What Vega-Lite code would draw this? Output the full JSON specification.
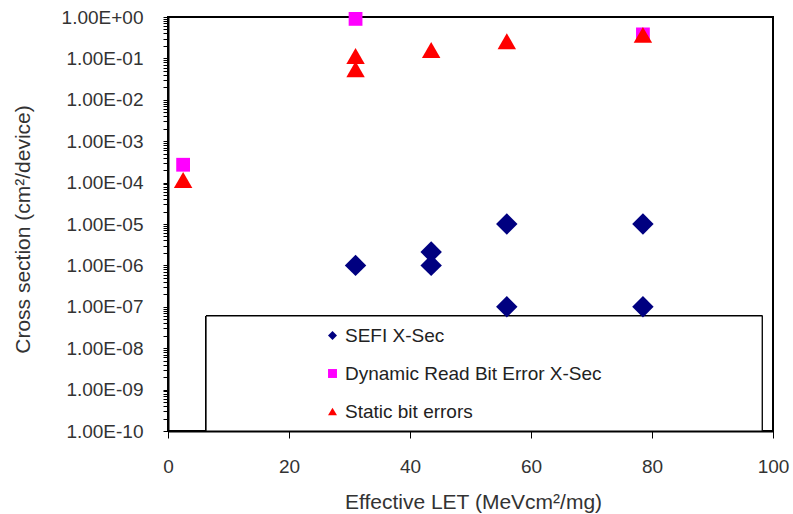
{
  "$schema": "https://vega.github.io/schema/vega-lite/v6.json",
  "width": 605,
  "height": 414,
  "autosize": "none",
  "padding": {"left": 168, "top": 17, "right": 20, "bottom": 83},
  "background": "white",
  "config": {
    "font": "Liberation Sans",
    "view": {"stroke": "black", "strokeWidth": 2},
    "axis": {"grid": false, "domainColor": "black", "domainWidth": 2, "tickColor": "black", "labelColor": "#333", "titleColor": "#333", "labelFont": "Liberation Sans", "titleFont": "Liberation Sans", "titleFontWeight": "normal", "labelFlush": false},
    "legend": {"symbolSize": 80}
  },
  "data": {
    "values": [
      {"let": 31, "xsec": 1e-6, "series": "SEFI X-Sec"},
      {"let": 43.5, "xsec": 2.1e-6, "series": "SEFI X-Sec"},
      {"let": 43.5, "xsec": 1e-6, "series": "SEFI X-Sec"},
      {"let": 56, "xsec": 1e-5, "series": "SEFI X-Sec"},
      {"let": 56, "xsec": 1e-7, "series": "SEFI X-Sec"},
      {"let": 78.5, "xsec": 1e-5, "series": "SEFI X-Sec"},
      {"let": 78.5, "xsec": 1e-7, "series": "SEFI X-Sec"},
      {"let": 2.5, "xsec": 2.7e-4, "series": "Dynamic Read Bit Error X-Sec"},
      {"let": 31, "xsec": 0.9, "series": "Dynamic Read Bit Error X-Sec"},
      {"let": 78.5, "xsec": 0.38, "series": "Dynamic Read Bit Error X-Sec"},
      {"let": 2.5, "xsec": 1.15e-4, "series": "Static bit errors"},
      {"let": 31, "xsec": 0.114, "series": "Static bit errors"},
      {"let": 31, "xsec": 0.055, "series": "Static bit errors"},
      {"let": 43.5, "xsec": 0.16, "series": "Static bit errors"},
      {"let": 56, "xsec": 0.26, "series": "Static bit errors"},
      {"let": 78.5, "xsec": 0.37, "series": "Static bit errors"}
    ]
  },
  "encoding": {
    "x": {
      "field": "let", "type": "quantitative",
      "scale": {"domain": [0, 100], "nice": false},
      "axis": {
        "values": [0, 20, 40, 60, 80, 100],
        "title": "Effective LET (MeVcm²/mg)",
        "tickSize": 7, "labelPadding": 19, "labelFontSize": 19,
        "titleFontSize": 21, "titleX": 305, "titleY": 71, "titleBaseline": "middle"
      }
    },
    "y": {
      "field": "xsec", "type": "quantitative",
      "scale": {"type": "log", "domain": [1e-10, 1], "nice": false},
      "axis": {
        "values": [1e-10,2e-10,3e-10,4e-10,5e-10,6e-10,7e-10,8e-10,9e-10,
                   1e-9,2e-9,3e-9,4e-9,5e-9,6e-9,7e-9,8e-9,9e-9,
                   1e-8,2e-8,3e-8,4e-8,5e-8,6e-8,7e-8,8e-8,9e-8,
                   1e-7,2e-7,3e-7,4e-7,5e-7,6e-7,7e-7,8e-7,9e-7,
                   1e-6,2e-6,3e-6,4e-6,5e-6,6e-6,7e-6,8e-6,9e-6,
                   1e-5,2e-5,3e-5,4e-5,5e-5,6e-5,7e-5,8e-5,9e-5,
                   1e-4,2e-4,3e-4,4e-4,5e-4,6e-4,7e-4,8e-4,9e-4,
                   1e-3,2e-3,3e-3,4e-3,5e-3,6e-3,7e-3,8e-3,9e-3,
                   0.01,0.02,0.03,0.04,0.05,0.06,0.07,0.08,0.09,
                   0.1,0.2,0.3,0.4,0.5,0.6,0.7,0.8,0.9,1],
        "labelExpr": "abs(log(datum.value)/LN10 - round(log(datum.value)/LN10)) < 0.001 ? ('1.00E' + (round(log(datum.value)/LN10) < 0 ? '-' : '+') + (abs(round(log(datum.value)/LN10)) < 10 ? '0' : '') + abs(round(log(datum.value)/LN10))) : ''",
        "labelOverlap": false,
        "labelFontSize": 19,
        "tickSize": 5,
        "labelPadding": 20,
        "title": "Cross section (cm²/device)",
        "titleFontSize": 21,
        "titleAngle": -90,
        "titleX": -145,
        "titleY": 212,
        "titleAlign": "center",
        "titleBaseline": "middle",
        "encode": {
          "ticks": {
            "update": {
              "x": {"signal": "abs(log(datum.value)/LN10 - round(log(datum.value)/LN10)) < 0.001 ? 6 : 0"},
              "x2": {"signal": "abs(log(datum.value)/LN10 - round(log(datum.value)/LN10)) < 0.001 ? -5 : 6"}
            }
          }
        }
      }
    },
    "color": {
      "field": "series", "type": "nominal",
      "scale": {"domain": ["SEFI X-Sec", "Dynamic Read Bit Error X-Sec", "Static bit errors"], "range": ["#000080", "#FF00FF", "#FF0000"]},
      "legend": {"orient": "none", "legendX": 155, "legendY": 309, "title": null, "labelFontSize": 19, "labelColor": "#222", "labelLimit": 500, "symbolSize": 80, "rowPadding": 18, "labelOffset": 3, "padding": 0, "symbolStrokeWidth": 0}
    },
    "shape": {
      "field": "series", "type": "nominal",
      "scale": {"domain": ["SEFI X-Sec", "Dynamic Read Bit Error X-Sec", "Static bit errors"], "range": ["diamond", "square", "triangle-up"]},
      "legend": {"orient": "none", "legendX": 155, "legendY": 309, "title": null, "labelFontSize": 19, "labelColor": "#222", "labelLimit": 500, "symbolSize": 80, "rowPadding": 18, "labelOffset": 3, "padding": 0, "symbolStrokeWidth": 0}
    }
  },
  "layer": [
    {
      "mark": {"type": "rect", "fill": "white", "stroke": "black", "strokeWidth": 1},
      "encoding": {
        "x": {"datum": 6.3, "type": "quantitative"},
        "x2": {"datum": 98.2},
        "y": {"datum": 6e-8, "type": "quantitative"},
        "y2": {"datum": 1e-10},
        "color": {"value": "white"},
        "shape": null
      }
    },
    {
      "transform": [{"filter": "datum.series === 'SEFI X-Sec'"}],
      "mark": {"type": "point", "filled": true, "opacity": 1, "strokeWidth": 0, "size": 460}
    },
    {
      "transform": [{"filter": "datum.series === 'Dynamic Read Bit Error X-Sec'"}],
      "mark": {"type": "point", "filled": true, "opacity": 1, "strokeWidth": 0, "size": 190}
    },
    {
      "transform": [{"filter": "datum.series === 'Static bit errors'"}],
      "mark": {"type": "point", "filled": true, "opacity": 1, "strokeWidth": 0, "size": 340}
    }
  ]
}
